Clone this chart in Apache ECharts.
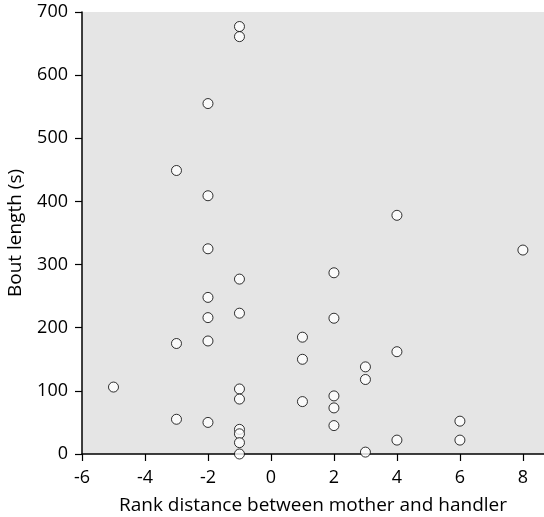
<!DOCTYPE html>
<html><head><meta charset="utf-8">
<script src="https://cdn.jsdelivr.net/npm/echarts@6/dist/echarts.min.js"></script>
<style>html,body{margin:0;padding:0;background:#fff}#c{width:544px;height:517px}</style>
</head><body><div id="c"></div>
<script>
const rankDistance = [-5,
  -3,-3,-3,
  -2,-2,-2,-2,-2,-2,-2,
  -1,-1,-1,-1,-1,-1,-1,-1,-1,-1,
  1,1,1,
  2,2,2,2,2,
  3,3,3,
  4,4,4,
  6,6,
  8];
const boutLength = [106,
  449,175,55,
  555,409,325,248,216,179,50,
  677,661,277,223,103,87,39,32,18,0,
  185,150,83,
  287,215,92,73,45,
  138,118,3,
  378,162,22,
  52,22,
  323];
const xTicks = [-6,-4,-2,0,2,4,6,8];
const yTicks = [0,100,200,300,400,500,600,700];
const xTitle = 'Rank distance between mother and handler';
const yTitle = 'Bout length (s)';

const points = rankDistance.map((x,i)=>[x,boutLength[i]]);
const font = 'Open Sans';
const chart = echarts.init(document.getElementById('c'));
chart.setOption({
  animation:false,
  grid:{left:82,top:12,right:0,bottom:63,show:true,backgroundColor:'#e5e5e5',borderWidth:0,
    containLabel:false,outerBoundsMode:'none'},
  xAxis:{type:'value',min:-6,max:8.67,
    name:xTitle,nameLocation:'middle',nameGap:42,
    nameTextStyle:{fontFamily:font,fontSize:19,color:'#000'},
    axisLine:{show:true,onZero:false,lineStyle:{color:'#000',width:1.5}},
    axisTick:{show:true,length:7,customValues:xTicks,lineStyle:{color:'#000',width:1.2}},
    axisLabel:{customValues:xTicks,fontFamily:font,fontSize:18,color:'#000',margin:15},
    splitLine:{show:false}},
  yAxis:{type:'value',min:0,max:700,interval:100,
    name:yTitle,nameLocation:'middle',nameGap:57,nameRotate:90,
    nameTextStyle:{fontFamily:font,fontSize:19,color:'#000'},
    axisLine:{show:true,onZero:false,lineStyle:{color:'#000',width:1.5}},
    axisTick:{show:true,length:7,customValues:yTicks,lineStyle:{color:'#000',width:1.2}},
    axisLabel:{customValues:yTicks,fontFamily:font,fontSize:18,color:'#000',margin:14},
    splitLine:{show:false}},
  series:[{type:'scatter',data:points,symbol:'circle',symbolSize:10,
    itemStyle:{color:'#fff',borderColor:'#000',borderWidth:1}}]
});
</script></body></html>
